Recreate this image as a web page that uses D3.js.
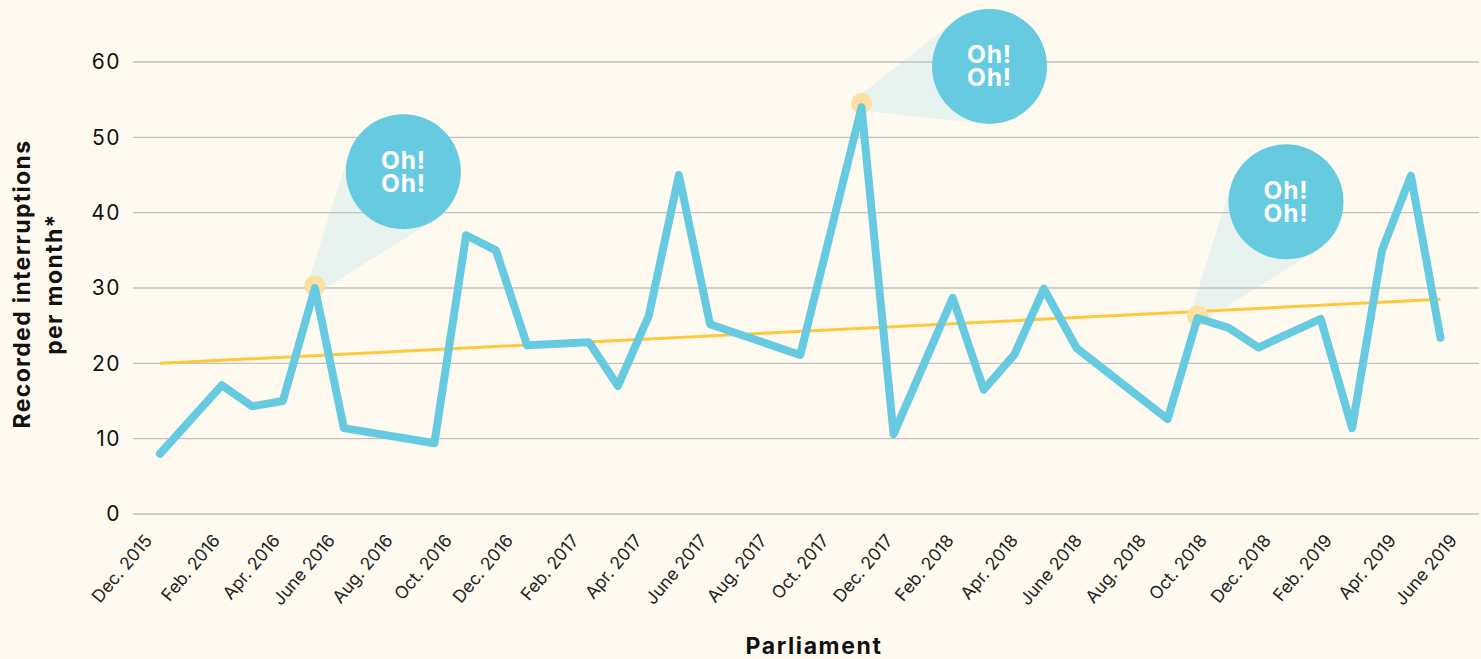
<!DOCTYPE html>
<html><head><meta charset="utf-8">
<script src="https://cdn.jsdelivr.net/npm/d3@7"></script>
<style>
html,body{margin:0;padding:0;background:#fffaf0;overflow:hidden}
svg{display:block}
text{font-family:Inter,"Open Sans",sans-serif}
</style></head><body><svg id="c" width="1481" height="659"></svg>
<script>
const monthPosition=[0,2.03,3.02,4.03,5.08,6.03,9,10.04,11.02,12.04,14.07,15.02,16.03,17.02,18.04,21,23.01,24.06,26,27.02,28.03,28.99,30.07,33.05,34.03,35.05,36.03,38.07,39.1,40.08,41.03,42];
const interruptions=[8,17.1,14.3,15,30,11.4,9.4,37,35,22.4,22.8,17,26.3,45,25.2,21.1,54,10.6,28.7,16.5,21.2,29.9,22,12.6,26,24.7,22.1,25.9,11.4,35,44.9,23.4];
const trendValues=[20,28.5];
const yTicks=[0,10,20,30,40,50,60];
const xLabels=["Dec. 2015","Feb. 2016","Apr. 2016","June 2016","Aug. 2016","Oct. 2016","Dec. 2016","Feb. 2017","Apr. 2017","June 2017","Aug. 2017","Oct. 2017","Dec. 2017","Feb. 2018","Apr. 2018","June 2018","Aug. 2018","Oct. 2018","Dec. 2018","Feb. 2019","Apr. 2019","June 2019"];
const xLabelMonths=[0,2.23,4.2,6.0,7.9,9.84,11.84,14,16.07,18.2,20.17,22.2,24.3,26.3,28.4,30.5,32.6,34.6,36.7,38.7,40.8,42.8];
const calloutMonths=[5.08,23.01,34.03];
const calloutValues=[30.3,54.5,26.3];
const calloutText=["Oh!","Oh!"];

const BUBBLE_R=57.5;
const bubbleOffsets=[[88.5,-114],[128,-37],[88.5,-114]];

const svg=d3.select("#c");
const x=d3.scaleLinear().domain([0,42]).range([160,1440.5]);
const y=d3.scaleLinear().domain([0,60]).range([514,62]);

// callout cones, under the gridlines
calloutMonths.forEach((m,i)=>{
  const px=x(m),py=y(calloutValues[i]);
  const cx=px+bubbleOffsets[i][0],cy=py+bubbleOffsets[i][1];
  const dx=cx-px,dy=cy-py,d=Math.hypot(dx,dy),a=Math.atan2(dy,dx),b=Math.asin(BUBBLE_R/d),t=Math.sqrt(d*d-BUBBLE_R*BUBBLE_R);
  const p1=[px+t*Math.cos(a-b),py+t*Math.sin(a-b)],p2=[px+t*Math.cos(a+b),py+t*Math.sin(a+b)];
  const nx=-Math.sin(a)*8,ny=Math.cos(a)*8;
  svg.append("path").attr("d",d3.line()([[px-nx,py-ny],p1,p2,[px+nx,py+ny]])+"Z").attr("fill","#e8f3f0");
});

// gridlines
svg.append("g").selectAll("line").data(yTicks).join("line")
  .attr("x1",133).attr("x2",1479).attr("y1",d=>y(d)).attr("y2",d=>y(d))
  .attr("stroke","#c2c1bf").attr("stroke-width",1.4);

// y tick labels
const gy=svg.append("g").attr("transform","translate(133,0)")
  .call(d3.axisLeft(y).tickValues(yTicks).tickSize(0).tickPadding(12));
gy.select(".domain").remove();
gy.selectAll("text").attr("font-size",21).attr("letter-spacing",1.5).attr("fill","#111").style("font-family","Inter");

// x labels
svg.append("g").selectAll("text").data(xLabels).join("text")
  .attr("text-anchor","end").attr("font-size",17.5).attr("fill","#222")
  .attr("transform",(d,i)=>`translate(${x(xLabelMonths[i])-7},541) rotate(-50)`).text(d=>d);

// trend
svg.append("path").attr("d",d3.line().x((d,i)=>x(i*42)).y(d=>y(d))(trendValues))
  .attr("fill","none").attr("stroke","#fcc93f").attr("stroke-width",3);

// highlight dots
calloutMonths.forEach((m,i)=>{
  svg.append("circle").attr("cx",x(m)).attr("cy",y(calloutValues[i])).attr("r",10.5).attr("fill","#fde0a2");
});

// main line
svg.append("path").attr("d",d3.line().x(d=>x(d[0])).y(d=>y(d[1]))(monthPosition.map((m,i)=>[m,interruptions[i]])))
  .attr("fill","none").attr("stroke","#66cbe0").attr("stroke-width",8).attr("stroke-linejoin","round").attr("stroke-linecap","round");

// bubbles
calloutMonths.forEach((m,i)=>{
  const cx=x(m)+bubbleOffsets[i][0],cy=y(calloutValues[i])+bubbleOffsets[i][1];
  svg.append("circle").attr("cx",cx).attr("cy",cy).attr("r",BUBBLE_R).attr("fill","#66cbe0");
  svg.append("g").selectAll("text").data(calloutText).join("text")
    .attr("x",cx).attr("y",(d,j)=>cy-3+j*23).attr("text-anchor","middle")
    .attr("font-size",24.5).attr("font-weight",700).attr("letter-spacing",0.8).attr("fill","#fff").text(d=>d);
});

// axis titles
svg.append("text").attr("x",814).attr("y",654).attr("text-anchor","middle")
  .attr("font-size",23).attr("font-weight",700).attr("letter-spacing",1.6).attr("fill","#111").text("Parliament");
const yt=svg.append("g").attr("transform","translate(30,284) rotate(-90)");
yt.append("text").attr("text-anchor","middle").attr("font-size",23).attr("font-weight",700).attr("letter-spacing",1.35).attr("fill","#111").text("Recorded interruptions");
yt.append("text").attr("y",32).attr("text-anchor","middle").attr("font-size",23).attr("font-weight",700).attr("letter-spacing",1.35).attr("fill","#111").text("per month*");
</script></body></html>
